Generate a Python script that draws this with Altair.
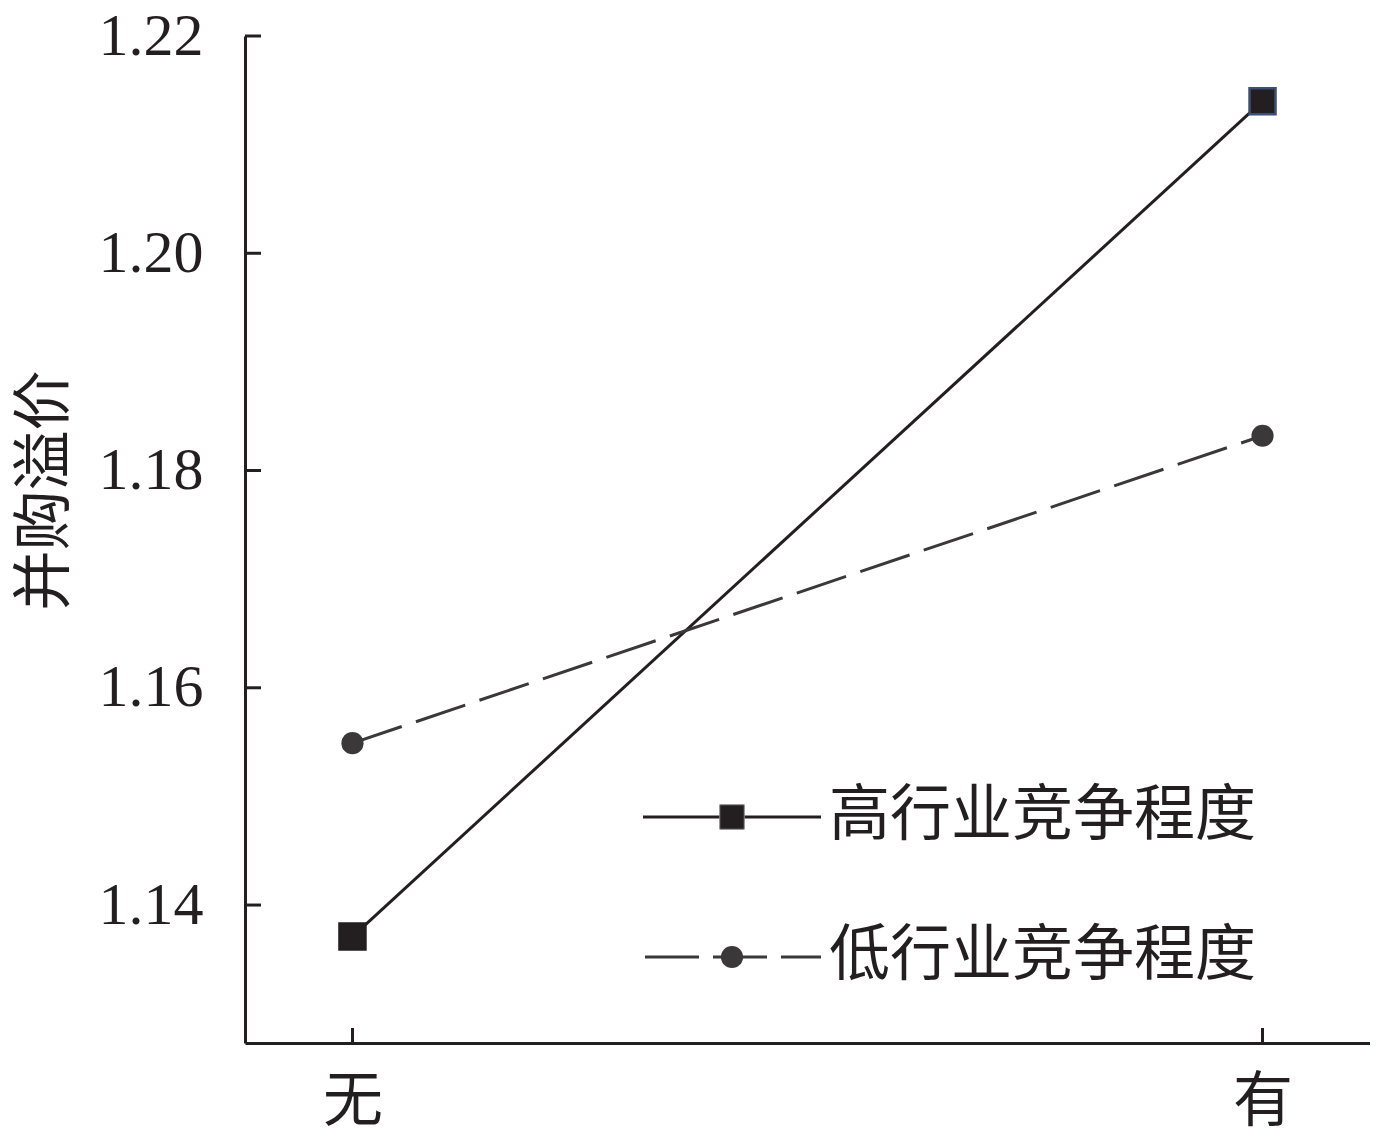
import altair as alt
import pandas as pd

# ---- data ----
categories = ["无", "有"]
high_values = [1.1371, 1.2140]
low_values = [1.1549, 1.1832]
y_ticks = [1.14, 1.16, 1.18, 1.20, 1.22]
series_names = ["高行业竞争程度", "低行业竞争程度"]
y_title = "并购溢价"
y_domain = [1.1273, 1.22]

W, H = 1125, 1007
INK = "#231f20"
DASH_INK = "#3a3839"
CJK = "Noto Sans CJK SC"

high_df = pd.DataFrame({"cat": categories, "value": high_values, "series": series_names[0]})
low_df = pd.DataFrame({"cat": categories, "value": low_values, "series": series_names[1]})
ticks_df = pd.DataFrame({"value": y_ticks})
cats_df = pd.DataFrame({"cat": categories})
leg_hi = pd.DataFrame({"label": [series_names[0]]})
leg_lo = pd.DataFrame({"label": [series_names[1]]})

x_scale = alt.Scale(type="point", domain=categories, padding=0.1181)
y_scale = alt.Scale(domain=y_domain, nice=False, zero=False)

x_axis = alt.Axis(
    title=None, labelFont=CJK, labelFontSize=60, labelColor=INK, labelPadding=30,
    labelAngle=0, ticks=False, domain=True, domainColor=INK, domainWidth=3, grid=False,
)
y_axis = alt.Axis(
    title=y_title, values=y_ticks, format=".2f", labelFont="Liberation Serif",
    labelFontSize=60, labelColor=INK, labelPadding=42, ticks=False, domain=True,
    domainColor=INK, domainWidth=3, grid=False, titleFont=CJK, titleFontSize=60,
    titleFontWeight="normal", titleColor=INK, titleAngle=270, titleX=-200, titleY=454,
    titleAlign="center", titleBaseline="middle",
)

X = alt.X("cat:N", scale=x_scale, axis=x_axis, sort=categories)
Y = alt.Y("value:Q", scale=y_scale, axis=y_axis)

high_line = alt.Chart(high_df).mark_line(color=INK, strokeWidth=3).encode(x=X, y=Y)
high_pts = alt.Chart(high_df).mark_point(
    shape="square", fill=INK, filled=True, size=676, opacity=1, strokeWidth=2.5
).encode(
    x=X, y=Y,
    stroke=alt.condition("datum.cat == '有'", alt.value("#3d4f72"), alt.value(INK)),
)
low_line = alt.Chart(low_df).mark_line(color=DASH_INK, strokeWidth=3, strokeDash=[52, 15]).encode(x=X, y=Y)
low_pts = alt.Chart(low_df).mark_circle(color=DASH_INK, size=491, opacity=1).encode(x=X, y=Y)

ytick = alt.Chart(ticks_df).mark_rule(color=INK, strokeWidth=3).encode(
    y=Y, x=alt.value(0), x2=alt.value(16)
)
xtick = alt.Chart(cats_df).mark_rule(color=INK, strokeWidth=3).encode(
    x=X, y=alt.value(H), y2=alt.value(H - 15)
)

# ---- custom legend ----
r1, r2 = 781, 921
leg1_line = alt.Chart(leg_hi).mark_rule(color=INK, strokeWidth=3).encode(
    x=alt.value(398), x2=alt.value(576), y=alt.value(r1)
)
leg1_sym = alt.Chart(leg_hi).mark_point(shape="square", fill=INK, filled=True, size=600, opacity=1,
                                          stroke="#8a8a8a", strokeWidth=1).encode(
    x=alt.value(487), y=alt.value(r1)
)
leg1_txt = alt.Chart(leg_hi).mark_text(align="left", baseline="middle", font=CJK, fontSize=61, color=INK).encode(
    text="label:N", x=alt.value(584), y=alt.value(r1)
)
leg2_line = alt.Chart(leg_lo).mark_rule(color=DASH_INK, strokeWidth=3, strokeDash=[54, 14]).encode(
    x=alt.value(400), x2=alt.value(576), y=alt.value(r2)
)
leg2_sym = alt.Chart(leg_lo).mark_circle(color=DASH_INK, size=491, opacity=1).encode(
    x=alt.value(487), y=alt.value(r2)
)
leg2_txt = alt.Chart(leg_lo).mark_text(align="left", baseline="middle", font=CJK, fontSize=61, color=INK).encode(
    text="label:N", x=alt.value(584), y=alt.value(r2)
)

chart = alt.layer(
    high_line, low_line, ytick, xtick, low_pts, high_pts,
    leg1_line, leg1_sym, leg1_txt, leg2_line, leg2_sym, leg2_txt,
).properties(
    width=W, height=H,
    autosize=alt.AutoSizeParams(type="none"),
    padding={"left": 237, "top": 28, "right": 0, "bottom": 97},
    background="white",
).configure_view(stroke=None)

chart.save("out.html", embed_options={"renderer": "svg", "actions": False})
